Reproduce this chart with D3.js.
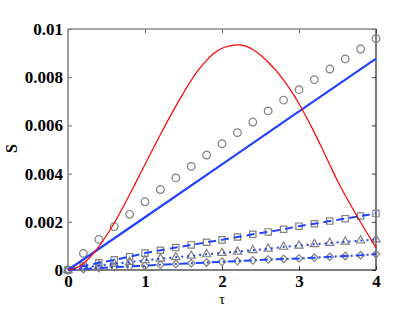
<!DOCTYPE html>
<html>
<head>
<meta charset="utf-8">
<script src="https://cdn.jsdelivr.net/npm/d3@7"></script>
<style>
  body { margin: 0; background: #fff; }
</style>
</head>
<body>
<script>
// values
var tauMarks = [0, 0.2, 0.4, 0.6, 0.8, 1.0, 1.2, 1.4, 1.6, 1.8, 2.0, 2.2, 2.4, 2.6, 2.8, 3.0, 3.2, 3.4, 3.6, 3.8, 4.0];
var circles  = [0, 0.00069, 0.00127, 0.0018, 0.00231, 0.00283, 0.00334, 0.00382, 0.0043, 0.00477, 0.00524, 0.0057, 0.00614, 0.0066, 0.00705, 0.00748, 0.0079, 0.00834, 0.00876, 0.00917, 0.0096];
var squares  = [0, 0.00017, 0.0003, 0.00042, 0.00055, 0.0007, 0.00082, 0.00093, 0.00104, 0.00115, 0.00125, 0.00137, 0.00148, 0.00158, 0.00169, 0.00182, 0.00192, 0.00203, 0.00213, 0.00224, 0.00234];
var triangles = [0, 0.0001, 0.00018, 0.00026, 0.00033, 0.0004, 0.00047, 0.00053, 0.00059, 0.00065, 0.00071, 0.00076, 0.00082, 0.00088, 0.00096, 0.00101, 0.00107, 0.00112, 0.00117, 0.00122, 0.00127];
var diamonds = [0, 0.00004, 0.00008, 0.00012, 0.00015, 0.00018, 0.00022, 0.00025, 0.00028, 0.00031, 0.00034, 0.00037, 0.0004, 0.00044, 0.00046, 0.00048, 0.00051, 0.00055, 0.00058, 0.00061, 0.00066];

var tauRed = [0, 0.1, 0.2, 0.3, 0.4, 0.5, 0.6, 0.7, 0.8, 0.9, 1.0, 1.1, 1.2, 1.3, 1.4, 1.5, 1.6, 1.7, 1.8, 1.9, 2.0,
              2.1, 2.2, 2.3, 2.4, 2.5, 2.6, 2.7, 2.8, 2.9, 3.0, 3.1, 3.2, 3.3, 3.4, 3.5, 3.6, 3.7, 3.8, 3.9, 4.0];
var red = [0, 0.00007, 0.00027, 0.00058, 0.00097, 0.00143, 0.00195, 0.00252, 0.00313, 0.00375, 0.00438, 0.005, 0.00562, 0.00622, 0.0068, 0.00735, 0.00787, 0.00832, 0.0087, 0.009, 0.0092,
           0.0093, 0.00934, 0.0093, 0.00915, 0.00892, 0.00862, 0.00828, 0.00788, 0.00742, 0.0069, 0.00632, 0.0057, 0.00504, 0.00437, 0.0037, 0.0031, 0.00253, 0.00198, 0.00145, 0.00093];

var tauBlue = [0, 1, 2, 3, 4];
var blue = [0, 0.00219, 0.00438, 0.00658, 0.00877];

var xTicks = [0, 1, 2, 3, 4];
var yTicks = [0, 0.002, 0.004, 0.006, 0.008, 0.01];

var serif = "Liberation Serif";

var W = 415, H = 312;
var margin = {top: 29, right: 39, bottom: 42, left: 68},
    width = W - margin.left - margin.right,
    height = H - margin.top - margin.bottom;

var svg = d3.select("body").append("svg")
    .attr("width", W)
    .attr("height", H)
  .append("g")
    .attr("transform", "translate(" + margin.left + "," + margin.top + ")");

var x = d3.scaleLinear().domain([0, 4]).range([0, width]);
var y = d3.scaleLinear().domain([0, 0.01]).range([height, 0]);

var zip = function(xs, ys) { return xs.map(function(v, i) { return [v, ys[i]]; }); };

var fmtY = function(d) { return d === 0 ? "0" : String(+d.toFixed(3)); };

var styleTicks = function(g, col) {
  g.attr("font-family", serif).attr("font-size", 17).attr("font-weight", "bold");
  g.select(".domain").remove();
  g.selectAll(".tick line").attr("stroke", col);
  g.selectAll(".tick text").attr("fill", "#000");
};

// axes, ticks pointing inward
svg.append("g")
    .attr("transform", "translate(0," + height + ")")
    .call(d3.axisBottom(x).tickValues(xTicks).tickSizeInner(-4).tickSizeOuter(0).tickPadding(5).tickFormat(d3.format("d")))
    .call(styleTicks, "#444");

svg.append("g")
    .call(d3.axisLeft(y).tickValues(yTicks).tickSizeInner(-4).tickSizeOuter(0).tickPadding(5).tickFormat(fmtY))
    .call(styleTicks, "#666");

svg.append("g")
    .call(d3.axisTop(x).tickValues(xTicks).tickSizeInner(-4).tickSizeOuter(0).tickFormat(""))
    .call(styleTicks, "#666");

svg.append("g")
    .attr("transform", "translate(" + width + ",0)")
    .call(d3.axisRight(y).tickValues(yTicks).tickSizeInner(-4).tickSizeOuter(0).tickFormat(""))
    .call(styleTicks, "#444");

// frame
svg.append("line").attr("x1", 0).attr("x2", width).attr("y1", height).attr("y2", height).attr("stroke", "#000").attr("stroke-width", 1.2);
svg.append("line").attr("x1", width).attr("x2", width).attr("y1", 0).attr("y2", height).attr("stroke", "#222").attr("stroke-width", 1.2);
svg.append("line").attr("x1", 0).attr("x2", width).attr("y1", 0).attr("y2", 0).attr("stroke", "#888").attr("stroke-width", 1.6);
svg.append("line").attr("x1", 0).attr("x2", 0).attr("y1", 0).attr("y2", height).attr("stroke", "#888").attr("stroke-width", 1.6);

var line = d3.line().x(function(d) { return x(d[0]); }).y(function(d) { return y(d[1]); });

// gray markers
var markerSets = [
  {vals: circles, type: d3.symbolCircle, size: 46},
  {vals: squares, type: d3.symbolSquare, size: 40},
  {vals: triangles, type: d3.symbolTriangle, size: 30},
  {vals: diamonds, type: d3.symbolDiamond2 || d3.symbolDiamond, size: 36}
];
markerSets.forEach(function(m) {
  svg.append("g").selectAll("path")
      .data(zip(tauMarks, m.vals))
    .enter().append("path")
      .attr("d", d3.symbol().type(m.type).size(m.size))
      .attr("transform", function(d) { return "translate(" + x(d[0]) + "," + y(d[1]) + ")"; })
      .attr("fill", "none")
      .attr("stroke", "#808080")
      .attr("stroke-width", 1.2);
});

// blue lines through the small series
var blueC = "#2443ff";
svg.append("path").datum(zip(tauMarks, squares)).attr("d", line)
    .attr("fill", "none").attr("stroke", blueC).attr("stroke-width", 2).attr("stroke-dasharray", "8,5");
svg.append("path").datum(zip(tauMarks, triangles)).attr("d", line)
    .attr("fill", "none").attr("stroke", blueC).attr("stroke-width", 2).attr("stroke-dasharray", "2,4");
svg.append("path").datum(zip(tauMarks, diamonds)).attr("d", line)
    .attr("fill", "none").attr("stroke", blueC).attr("stroke-width", 2).attr("stroke-dasharray", "8,3,2,3");

// solid blue
svg.append("path").datum(zip(tauBlue, blue)).attr("d", line)
    .attr("fill", "none").attr("stroke", blueC).attr("stroke-width", 2.2);

// red curve
svg.append("path").datum(zip(tauRed, red)).attr("d", line.curve(d3.curveCatmullRom))
    .attr("fill", "none").attr("stroke", "#ff0000").attr("stroke-width", 1.2);

// axis labels
svg.append("text")
    .attr("x", width / 2).attr("y", height + 34)
    .attr("text-anchor", "middle")
    .attr("font-family", serif).attr("font-size", 15)
    .text("τ");

svg.append("text")
    .attr("transform", "translate(" + (-51) + "," + (height / 2 - 1) + ") rotate(-90)")
    .attr("text-anchor", "middle")
    .attr("font-family", serif).attr("font-size", 16).attr("font-weight", "bold")
    .text("S");
</script>
</body>
</html>
